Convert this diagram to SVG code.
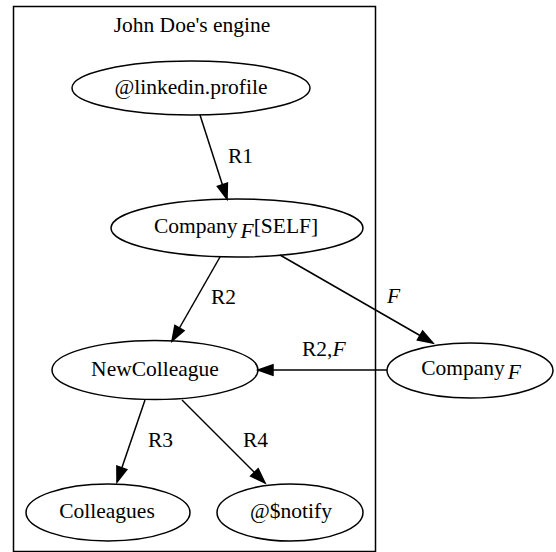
<svg xmlns="http://www.w3.org/2000/svg" width="556" height="552" viewBox="0 0 556 552" font-family="'Liberation Serif', 'DejaVu Serif', serif">
  <style>
    text { font-family: "Liberation Serif", "DejaVu Serif", serif; font-size: 21.5px; fill: #000; }
    .node ellipse { fill: none; stroke: #000; stroke-width: 1.5; }
    .cluster rect { fill: none; stroke: #000; stroke-width: 1.5; }
    .edge line { stroke: #000; stroke-width: 1.5; marker-end: url(#arrow); }
    .c { text-anchor: middle; }
    .i { font-style: italic; }
  </style>
  <defs>
    <marker id="arrow" markerUnits="userSpaceOnUse" markerWidth="16" markerHeight="12" refX="15" refY="5.25" orient="auto" overflow="visible">
      <path d="M0,0 L15,5.25 L0,10.5 z" fill="#000" stroke="#000" stroke-width="1.5"/>
    </marker>
  </defs>

  <rect width="556" height="552" fill="#fff"/>

  <!-- subgraph box -->
  <g id="cluster_engine" class="cluster">
    <rect x="13.5" y="6.5" width="362" height="545"/>
    <text class="c" x="192" y="32">John Doe's engine</text>
  </g>

  <!-- nodes -->
  <g id="linkedin_profile" class="node">
    <ellipse cx="191" cy="88" rx="119" ry="27"/>
    <text class="c" x="191" y="94">@linkedin.profile</text>
  </g>
  <g id="company_self" class="node">
    <ellipse cx="237" cy="228" rx="126" ry="29"/>
    <text class="c" x="236" y="233">Company<tspan class="i" dx="3" dy="5">F</tspan><tspan dy="-5">[SELF]</tspan></text>
  </g>
  <g id="new_colleague" class="node">
    <ellipse cx="155" cy="370" rx="103" ry="29.5"/>
    <text class="c" x="155" y="376">NewColleague</text>
  </g>
  <g id="company_f" class="node">
    <ellipse cx="470" cy="370.5" rx="83" ry="27.5"/>
    <text class="c" x="471" y="375">Company<tspan class="i" dx="3" dy="4">F</tspan></text>
  </g>
  <g id="colleagues" class="node">
    <ellipse cx="108" cy="512.5" rx="82" ry="28.5"/>
    <text class="c" x="107" y="518">Colleagues</text>
  </g>
  <g id="notify" class="node">
    <ellipse cx="290" cy="512.5" rx="73" ry="28.5"/>
    <text class="c" x="291" y="518">@$notify</text>
  </g>

  <!-- connectors -->
  <g id="edges" class="edge">
    <line x1="200" y1="115" x2="227" y2="199"/>
    <text x="228" y="163">R1</text>
    <line x1="220" y1="257" x2="172" y2="341"/>
    <text x="211" y="304">R2</text>
    <line x1="280" y1="255" x2="433" y2="343"/>
    <text class="i" x="387" y="303">F</text>
    <line x1="387" y1="370" x2="258" y2="370"/>
    <text x="302" y="356">R2,<tspan class="i">F</tspan></text>
    <line x1="145" y1="400" x2="117" y2="482"/>
    <text x="148" y="447">R3</text>
    <line x1="182" y1="400" x2="265" y2="483"/>
    <text x="243" y="447">R4</text>
  </g>
</svg>
